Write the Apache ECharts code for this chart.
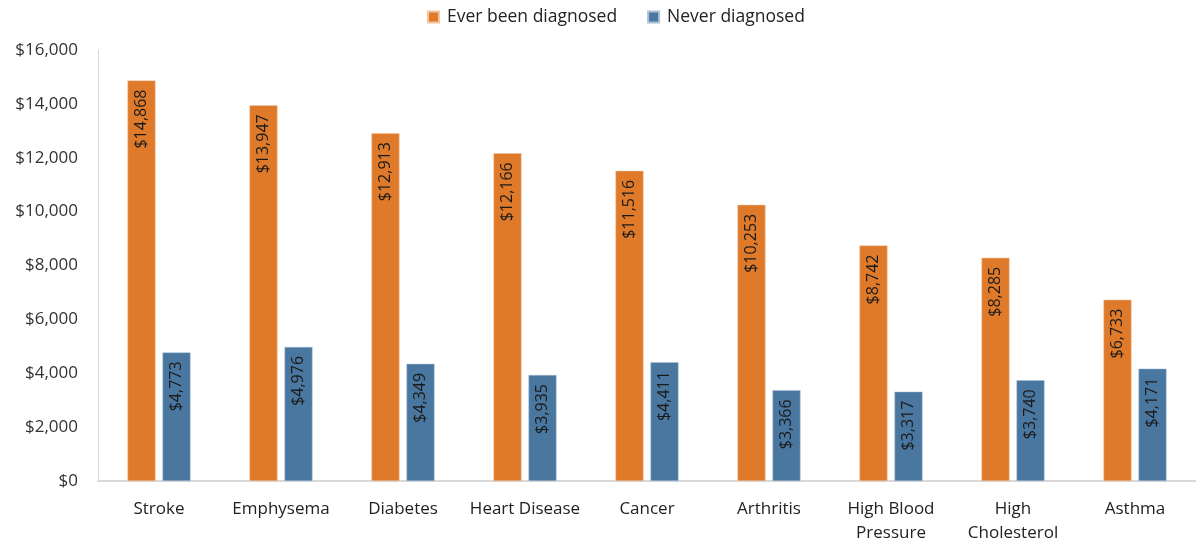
<!DOCTYPE html>
<html>
<head>
<meta charset="utf-8">
<script src="https://cdn.jsdelivr.net/npm/echarts@6/dist/echarts.min.js"></script>
<style>html,body{margin:0;padding:0;background:#fff;}#c{width:1196px;height:545px;}</style>
</head>
<body>
<div id="c"></div>
<script>
const categories = ['Stroke', 'Emphysema', 'Diabetes', 'Heart Disease', 'Cancer', 'Arthritis', 'High Blood\nPressure', 'High\nCholesterol', 'Asthma'];
const everDiagnosed = [14868, 13947, 12913, 12166, 11516, 10253, 8742, 8285, 6733];
const neverDiagnosed = [4773, 4976, 4349, 3935, 4411, 3366, 3317, 3740, 4171];
const seriesNames = ['Ever been diagnosed', 'Never diagnosed'];

const FONT = 'Open Sans';
const fmt = v => '$' + v.toLocaleString('en-US');
const chart = echarts.init(document.getElementById('c'));
const labelCfg = {
  show: true, position: 'insideTop', rotate: 90, align: 'right', verticalAlign: 'middle',
  distance: 9, color: '#1a1a1a', fontFamily: FONT, fontSize: 16,
  formatter: p => fmt(p.value)
};
chart.setOption({
  animation: false,
  textStyle: { fontFamily: FONT },
  legend: {
    top: 3, left: 422, itemWidth: 11, itemHeight: 11, itemGap: 30, icon: 'rect',
    textStyle: { fontFamily: FONT, fontSize: 17.5, color: '#222', padding: [0, 0, 0, 3] },
    data: seriesNames
  },
  grid: { left: 98, top: 50, width: 1106, height: 434, containLabel: false },
  xAxis: {
    type: 'category', data: categories,
    axisLine: { lineStyle: { color: '#d9d9d9', width: 2 } },
    axisTick: { show: false },
    axisLabel: { fontFamily: FONT, fontSize: 17, color: '#222', margin: 16, lineHeight: 24, interval: 0 }
  },
  yAxis: {
    type: 'value', min: 0, max: 16000, interval: 2000,
    axisLine: { show: true, lineStyle: { color: '#d9d9d9', width: 1 } },
    axisTick: { show: false },
    splitLine: { show: false },
    axisLabel: { fontFamily: FONT, fontSize: 17, color: '#333', margin: 20, formatter: v => fmt(v) }
  },
  series: [
    { name: seriesNames[0], type: 'bar', data: everDiagnosed, barWidth: 28, barGap: '25%',
      itemStyle: { color: '#DE7A2A', borderColor: '#f2c4a0', borderWidth: 0.5 }, label: labelCfg },
    { name: seriesNames[1], type: 'bar', data: neverDiagnosed, barWidth: 28,
      itemStyle: { color: '#4A77A0', borderColor: '#a9c0d6', borderWidth: 0.5 }, label: labelCfg }
  ]
});
</script>
</body>
</html>
